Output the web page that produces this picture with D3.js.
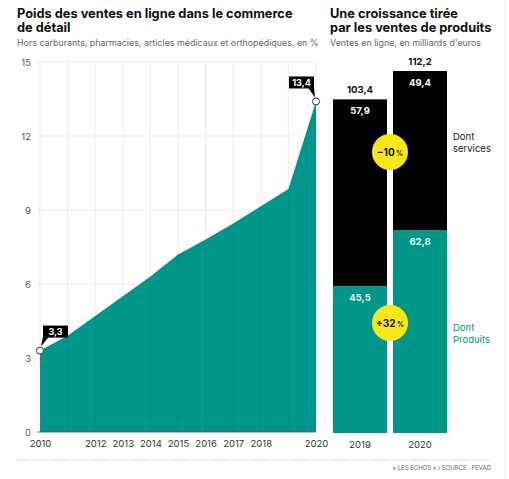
<!DOCTYPE html>
<html>
<head>
<meta charset="utf-8">
<script src="https://cdn.jsdelivr.net/npm/d3@7"></script>
<style>
  body { margin: 0; background: #fff; }
  svg { display: block; font-family: Inter, "Noto Sans", sans-serif; }
</style>
</head>
<body>
<script>
// part des ventes en ligne, en %
const years = [2010, 2011, 2012, 2013, 2014, 2015, 2016, 2017, 2018, 2019, 2020]
const share = [3.3, 3.9, 4.7, 5.5, 6.3, 7.2, 7.8, 8.45, 9.15, 9.85, 13.4]
const yearLabels = [2010, 2012, 2013, 2014, 2015, 2016, 2017, 2018, 2020]
const yTicks = [0, 3, 6, 9, 12, 15]

// ventes en ligne, en milliards d'euros
const barYears = ['2019', '2020']
const produits = [45.5, 62.8]
const services = [57.9, 49.4]
const totals = ['103,4', '112,2']
const changes = ['−10', '+32']

const teal = '#00968a'
const yellow = '#fbe61a'
const fmt = v => String(v).replace('.', ',')

const W = 509, H = 479

const svg = d3.select('body').append('svg')
    .attr('width', W)
    .attr('height', H)

// --- titles
function title(x0, lines, sub) {
  const t = svg.append('text').attr('x', x0).attr('y', 18)
      .attr('font-size', 12.8).attr('font-weight', 700).attr('fill', '#111')
  lines.forEach((l, i) => t.append('tspan').attr('x', x0).attr('dy', i ? 14 : 0).text(l))
  svg.append('text').attr('x', x0).attr('y', 45.5)
      .attr('font-size', 8.9).attr('fill', '#666')
      .text(sub)
}
title(17, ['Poids des ventes en ligne dans le commerce', 'de détail'],
  'Hors carburants, pharmacies, articles médicaux et orthopédiques, en %')
title(330, ['Une croissance tirée', 'par les ventes de produits'],
  'Ventes en ligne, en milliards d\'euros')

// --- area chart
const x = d3.scaleLinear().domain([2010, 2020]).range([40, 316])
const y = d3.scaleLinear().domain([0, 15]).range([432, 62])

const grid = svg.append('g')
grid.selectAll('.hg').data(yTicks.filter(d => d > 0)).enter().append('line')
    .attr('x1', 37).attr('x2', x(2020))
    .attr('y1', d => y(d)).attr('y2', d => y(d))
    .attr('stroke', '#e6e6e6').attr('stroke-width', 0.8)
grid.selectAll('.vg').data(years).enter().append('line')
    .attr('x1', d => x(d)).attr('x2', d => x(d))
    .attr('y1', y(15)).attr('y2', y(0))
    .attr('stroke', '#e6e6e6').attr('stroke-width', 0.8)

const area = d3.area()
    .x((d, i) => x(years[i]))
    .y0(y(0))
    .y1(d => y(d))

svg.append('path')
    .datum(share)
    .attr('d', area)
    .attr('fill', teal)

// faint grid seen through the area
svg.append('g').selectAll('line').data(years.slice(1, -1)).enter().append('line')
    .attr('x1', d => x(d)).attr('x2', d => x(d))
    .attr('y1', (d, i) => y(share[i + 1])).attr('y2', y(0))
    .attr('stroke', 'rgba(0,0,0,0.07)').attr('stroke-width', 0.8)

svg.append('line')
    .attr('x1', 37).attr('x2', x(2020))
    .attr('y1', y(0)).attr('y2', y(0))
    .attr('stroke', '#555').attr('stroke-width', 0.8)

const yAxis = svg.append('g')
    .attr('transform', 'translate(31,0)')
    .call(d3.axisLeft(y).tickValues(yTicks).tickSize(0).tickPadding(0))
yAxis.select('.domain').remove()
yAxis.selectAll('text').attr('font-size', 9.5).attr('fill', '#555')
    .attr('font-family', 'Inter, sans-serif')

const xAxis = svg.append('g')
    .attr('transform', `translate(0,${y(0)})`)
    .call(d3.axisBottom(x).tickValues(yearLabels).tickFormat(d3.format('d')).tickSize(0).tickPadding(8))
xAxis.select('.domain').remove()
xAxis.selectAll('text').attr('font-size', 9.5).attr('fill', '#333')
    .attr('font-family', 'Inter, sans-serif')

// end-point markers and labels
const ends = [0, share.length - 1]
svg.append('g').selectAll('circle').data(ends).enter().append('circle')
    .attr('cx', i => x(years[i])).attr('cy', i => y(share[i]))
    .attr('r', 3.5).attr('fill', '#fff').attr('stroke', '#333').attr('stroke-width', 1)

function callout(px, py, label, side) {
  const w = 25, h = 12
  const bx = side === 'left' ? px + 3 : px - 2 - w
  const by = py - 25
  const g = svg.append('g')
  g.append('rect').attr('x', bx).attr('y', by).attr('width', w).attr('height', h).attr('fill', '#000')
  const tip = side === 'left'
    ? [[bx, by + h - 1], [bx + 6, by + h - 1], [px + 1, py - 4]]
    : [[bx + w, by + h - 1], [bx + w - 6, by + h - 1], [px - 1, py - 4]]
  g.append('path').attr('d', d3.line()(tip) + 'Z').attr('fill', '#000')
  g.append('text').attr('x', bx + w / 2).attr('y', by + 9.5)
      .attr('text-anchor', 'middle').attr('font-size', 9).attr('font-weight', 700)
      .attr('fill', '#fff').text(label)
}
callout(x(years[0]), y(share[0]), fmt(share[0]), 'left')
callout(x(years[10]), y(share[10]), fmt(share[10]), 'right')

// --- stacked bars
const xb = d3.scaleBand().domain(barYears).range([333, 447]).paddingInner(0.1)
const yb = d3.scaleLinear().domain([0, 112.2]).range([433, 71])

const bars = svg.append('g')
bars.selectAll('.prod').data(barYears).enter().append('rect')
    .attr('x', d => xb(d)).attr('width', xb.bandwidth())
    .attr('y', (d, i) => yb(produits[i]))
    .attr('height', (d, i) => yb(0) - yb(produits[i]))
    .attr('fill', teal)
bars.selectAll('.serv').data(barYears).enter().append('rect')
    .attr('x', d => xb(d)).attr('width', xb.bandwidth())
    .attr('y', (d, i) => yb(produits[i] + services[i]))
    .attr('height', (d, i) => yb(produits[i]) - yb(produits[i] + services[i]))
    .attr('fill', '#000')

const cx = d => xb(d) + xb.bandwidth() / 2
bars.selectAll('.tot').data(barYears).enter().append('text')
    .attr('x', cx).attr('y', (d, i) => yb(produits[i] + services[i]) - 6)
    .attr('text-anchor', 'middle').attr('font-size', 9.5).attr('font-weight', 700)
    .attr('fill', '#111').text((d, i) => totals[i])
bars.selectAll('.sv').data(barYears).enter().append('text')
    .attr('x', cx).attr('y', (d, i) => yb(produits[i] + services[i]) + 15)
    .attr('text-anchor', 'middle').attr('font-size', 9.5).attr('font-weight', 700)
    .attr('fill', '#fff').text((d, i) => fmt(services[i]))
bars.selectAll('.pv').data(barYears).enter().append('text')
    .attr('x', cx).attr('y', (d, i) => yb(produits[i]) + 15)
    .attr('text-anchor', 'middle').attr('font-size', 9.5).attr('font-weight', 700)
    .attr('fill', '#e8f5f3').text((d, i) => fmt(produits[i]))

const xbAxis = svg.append('g')
    .attr('transform', `translate(0,${yb(0)})`)
    .call(d3.axisBottom(xb).tickSize(0).tickPadding(8))
xbAxis.select('.domain').remove()
xbAxis.selectAll('text').attr('font-size', 9.5).attr('fill', '#333')
    .attr('font-family', 'Inter, sans-serif')

// change badges
const mid = (xb('2019') + xb.bandwidth() + xb('2020')) / 2
changes.forEach((c, i) => {
  const g = svg.append('g').attr('transform', `translate(${mid},${i === 0 ? 152 : 323})`)
  g.append('circle').attr('r', 18).attr('fill', yellow)
  const t = g.append('text').attr('text-anchor', 'middle').attr('y', 3.5)
      .attr('font-weight', 700).attr('fill', '#111')
  t.append('tspan').attr('font-size', 10).text(c)
  t.append('tspan').attr('font-size', 7).attr('dx', 1.5).text('%')
})

// legend
const legend = svg.append('g').attr('font-size', 9.5)
const leg1 = legend.append('text').attr('x', 453).attr('y', 140).attr('fill', '#222')
leg1.append('tspan').attr('x', 453).text('Dont')
leg1.append('tspan').attr('x', 453).attr('dy', 12).text('services')
const leg2 = legend.append('text').attr('x', 453).attr('y', 331).attr('fill', teal)
leg2.append('tspan').attr('x', 453).text('Dont')
leg2.append('tspan').attr('x', 453).attr('dy', 12).text('Produits')

// frame edge on the right
svg.append('line').attr('x1', 505).attr('x2', 505).attr('y1', 0).attr('y2', H)
    .attr('stroke', '#e4e4e4').attr('stroke-width', 1)

// footer
svg.append('line').attr('x1', 17).attr('x2', 492).attr('y1', 460).attr('y2', 460)
    .attr('stroke', '#999').attr('stroke-width', 0.8).attr('stroke-dasharray', '1,1.5')
svg.append('text').attr('x', 491).attr('y', 470)
    .attr('text-anchor', 'end').attr('font-size', 6).attr('fill', '#666')
    .text('« LES ÉCHOS » / SOURCE : FEVAD')
</script>
</body>
</html>
